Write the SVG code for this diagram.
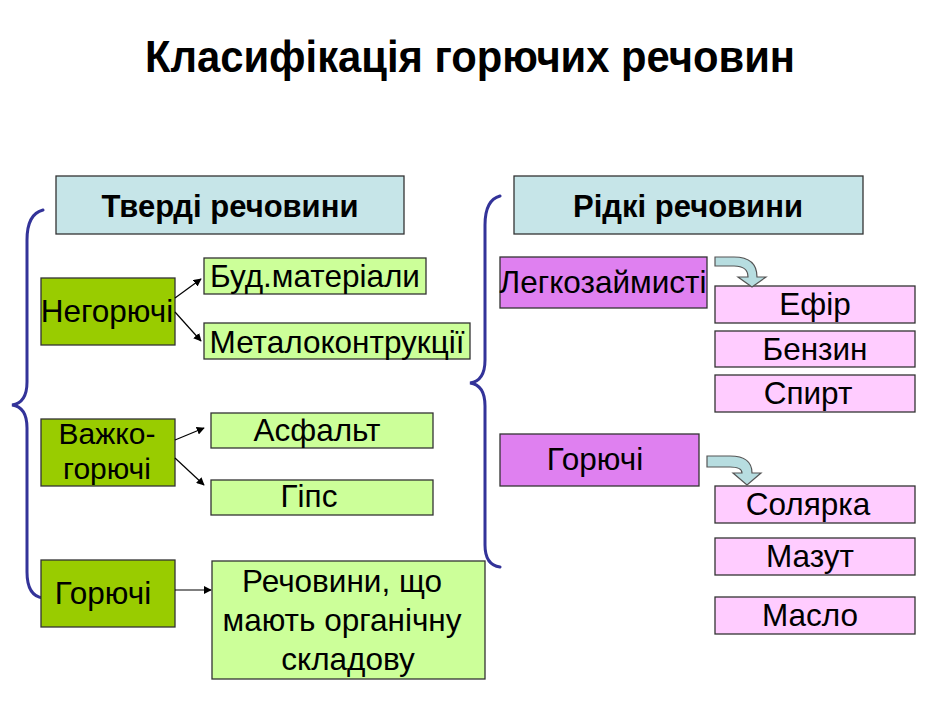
<svg xmlns="http://www.w3.org/2000/svg" width="940" height="705" viewBox="0 0 940 705">
<defs>
<style>
text{font-family:"Liberation Sans",Arial,sans-serif;fill:#000;text-anchor:middle}
.t{font-size:31.5px}
.s{font-size:30px}
.b{font-size:31px;font-weight:bold}
.box{stroke:#333;stroke-width:1.3}
.hdr{fill:#c6e5e8}
.dg{fill:#99cc00}
.lg{fill:#ccff99}
.vi{fill:#df80f0}
.pk{fill:#ffccff}
.brace{fill:none;stroke:#333399;stroke-width:3;stroke-linecap:round}
.ar{stroke:#000;stroke-width:1.2;fill:none;marker-end:url(#ah)}
.bent{fill:#b7dde0;stroke:#555;stroke-width:1.2;stroke-linejoin:miter}
</style>
<marker id="ah" viewBox="0 0 10 10" refX="9" refY="5" markerWidth="8" markerHeight="8" markerUnits="userSpaceOnUse" orient="auto">
<path d="M0,0 L10,5 L0,10 Z" fill="#000"/>
</marker>
</defs>
<rect width="940" height="705" fill="#fff"/>
<text x="470" y="72" style="font-size:45px;font-weight:bold" textLength="650" lengthAdjust="spacingAndGlyphs">Класифікація горючих речовин</text>

<g id="braces">
<path class="brace" d="M43,210 Q27,214 27,240 V382 Q27,403 12,405 Q27,407 27,428 V572 Q27,596 43,598"/>
<path class="brace" d="M500,196 Q485,200 485,225 V360 Q485,381 470,383 Q485,385 485,406 V545 Q485,565 500,567"/>
</g>

<g id="hdr-solid"><rect class="box hdr" x="56" y="176" width="348" height="58"/><text class="b" x="230" y="217">Тверді речовини</text></g>
<g id="hdr-liquid"><rect class="box hdr" x="514" y="176" width="349" height="58"/><text class="b" x="688" y="217">Рідкі речовини</text></g>

<g id="negor"><rect class="box dg" x="41" y="278" width="134" height="67"/><text class="t" x="107" y="322">Негорючі</text></g>
<g id="vazhko"><rect class="box dg" x="41" y="419" width="134" height="67"/><text class="s" x="107" y="444">Важко-</text><text class="s" x="107" y="479">горючі</text></g>
<g id="gor-solid"><rect class="box dg" x="41" y="560" width="134" height="67"/><text class="t" x="103" y="604">Горючі</text></g>

<g id="bud"><rect class="box lg" x="204" y="258" width="222" height="36"/><text class="t" x="315" y="287">Буд.матеріали</text></g>
<g id="metal"><rect class="box lg" x="204" y="323" width="266" height="36"/><text class="t" x="337" y="353">Металоконтрукції</text></g>
<g id="asfalt"><rect class="box lg" x="211" y="413" width="222" height="35"/><text class="t" x="317" y="441">Асфальт</text></g>
<g id="gips"><rect class="box lg" x="211" y="480" width="222" height="35"/><text class="t" x="309" y="507">Гіпс</text></g>
<g id="organic"><rect class="box lg" x="212" y="561" width="273" height="118"/><text class="t" x="342" y="592">Речовини, що</text><text class="t" x="342" y="631">мають органічну</text><text class="t" x="348" y="670">складову</text></g>

<g id="legko"><rect class="box vi" x="500" y="257" width="207" height="51"/><text class="t" x="603" y="293">Легкозаймисті</text></g>
<g id="gor-liquid"><rect class="box vi" x="500" y="434" width="199" height="52"/><text class="t" x="595" y="470">Горючі</text></g>

<g id="efir"><rect class="box pk" x="715" y="286" width="200" height="37"/><text class="t" x="815" y="315">Ефір</text></g>
<g id="benzyn"><rect class="box pk" x="715" y="331" width="200" height="36"/><text class="t" x="815" y="360">Бензин</text></g>
<g id="spyrt"><rect class="box pk" x="715" y="375" width="200" height="37"/><text class="t" x="808" y="404">Спирт</text></g>
<g id="soliarka"><rect class="box pk" x="715" y="486" width="200" height="37"/><text class="t" x="808" y="515">Солярка</text></g>
<g id="mazut"><rect class="box pk" x="715" y="538" width="200" height="37"/><text class="t" x="810" y="567">Мазут</text></g>
<g id="maslo"><rect class="box pk" x="715" y="597" width="200" height="37"/><text class="t" x="810" y="626">Масло</text></g>

<g id="connectors">
<line class="ar" x1="175" y1="298" x2="201" y2="279"/>
<line class="ar" x1="175" y1="312" x2="201" y2="341"/>
<line class="ar" x1="175" y1="440" x2="204" y2="428"/>
<line class="ar" x1="175" y1="458" x2="204" y2="485"/>
<line class="ar" x1="175" y1="590" x2="211" y2="590"/>
<path class="bent" d="M715,257 H734 Q757,257 757,277 H766 L752,287 L738,277 H748 Q748,266 734,266 H715 Z"/>
<path class="bent" d="M707,456 H730 Q752,456 752,473 H761 L747,485 L733,473 H742 Q742,467 730,467 H707 Z"/>
</g>
</svg>
